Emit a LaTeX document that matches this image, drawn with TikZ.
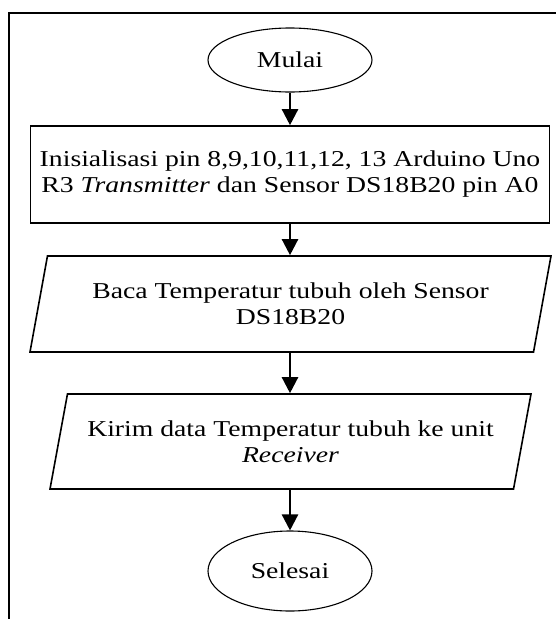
\documentclass[tikz,border=0pt]{standalone}
\usepackage{fontspec}
\setmainfont{Liberation Serif}[FakeStretch=1.22]
\usetikzlibrary{shapes.geometric, arrows.meta, positioning}

\begin{document}
\begin{tikzpicture}[
        x=1pt, y=-1pt,
        every node/.style={align=center, font=\fontsize{22.7}{26}\selectfont},
        terminal/.style={ellipse, draw, line width=1.1pt,
                         minimum width=164pt, minimum height=64pt, inner sep=0pt},
        process/.style={rectangle, draw, line width=1.6pt,
                        minimum width=519pt, minimum height=97pt, inner sep=0pt},
        io/.style={trapezium, draw, line width=1.6pt,
                   trapezium left angle=67.4, trapezium right angle=112.6,
                   trapezium stretches body, inner sep=0pt},
        flow/.style={-{Triangle[length=16pt, width=16pt]}, line width=2.4pt},
        frame/.style={line width=2.4pt}
    ]
        \useasboundingbox (0,0) rectangle (556,619);
        % outer frame (only top and left edge are inside the page)
        \draw[frame] (9,619) -- (9,13) -- (556,13);

        % flowchart blocks
        \node [terminal] (mulai) at (290,60) {Mulai};
        \node [process] (inisialisasi) at (290,174.5)
            {Inisialisasi pin 8,9,10,11,12, 13 Arduino Uno\\
             R3 \textit{Transmitter} dan Sensor DS18B20 pin A0};
        \node [io, minimum width=521pt, minimum height=96pt] (baca) at (290.5,304)
            {Baca Temperatur tubuh oleh Sensor\\DS18B20};
        \node [io, minimum width=481pt, minimum height=95pt] (kirim) at (290.5,441.5)
            {Kirim data Temperatur tubuh ke unit\\\textit{Receiver}};
        \node [terminal, minimum height=80pt] (selesai) at (290,571) {Selesai};

        % flow arrows
        \draw[flow] (mulai) -- (inisialisasi);
        \draw[flow] (inisialisasi) -- (inisialisasi |- baca.north);
        \draw[flow] (baca.south -| mulai) -- (mulai |- kirim.north);
        \draw[flow] (kirim.south -| mulai) -- (selesai);
    \end{tikzpicture}
\end{document}
